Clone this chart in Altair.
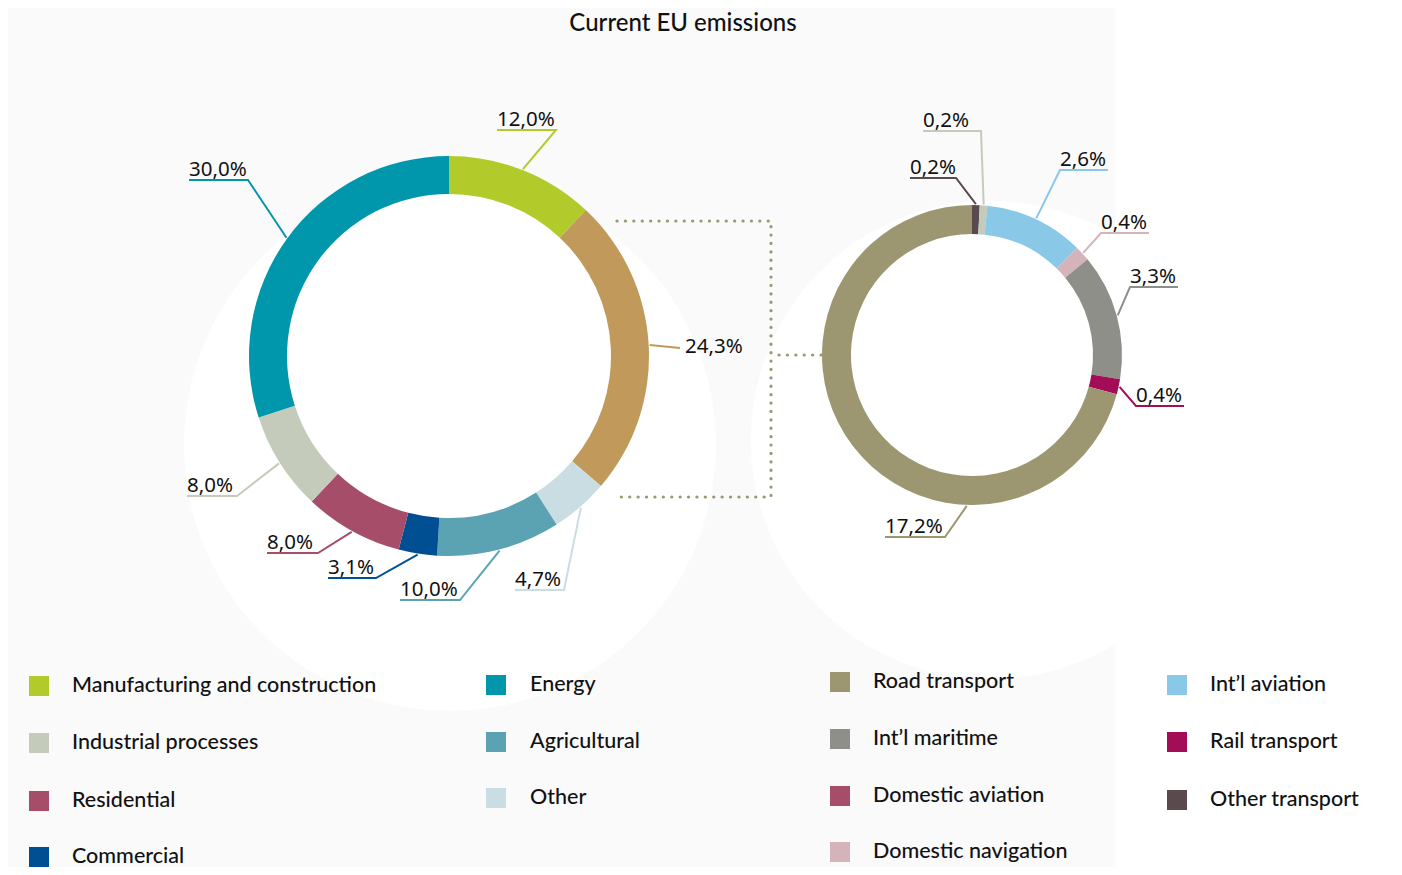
import math
import altair as alt
import pandas as pd

# ---------------- data ----------------
sector_names = ["Manufacturing and construction", "Transport", "Other", "Agricultural",
                "Commercial", "Residential", "Industrial processes", "Energy"]
sector_values = [12.0, 24.3, 4.7, 10.0, 3.1, 8.0, 8.0, 30.0]

transport_names = ["Other transport", "Domestic aviation", "Int’l aviation", "Domestic navigation",
                   "Int’l maritime", "Rail transport", "Road transport"]
transport_values = [0.2, 0.2, 2.6, 0.4, 3.3, 0.4, 17.2]

legend_col1 = ["Manufacturing and construction", "Industrial processes", "Residential", "Commercial"]
legend_col2 = ["Energy", "Agricultural", "Other"]
legend_col3 = ["Road transport", "Int’l maritime", "Domestic aviation", "Domestic navigation"]
legend_col4 = ["Int’l aviation", "Rail transport", "Other transport"]

title_text = "Current EU emissions"

# ---------------- styles ----------------
colors = {
    "Manufacturing and construction": "#B2CB2B",
    "Transport": "#C19A5B",
    "Other": "#C9DDE3",
    "Agricultural": "#5BA3B3",
    "Commercial": "#004F93",
    "Residential": "#A64D6A",
    "Industrial processes": "#C5CBBA",
    "Energy": "#0097AC",
    "Road transport": "#9C9771",
    "Int’l maritime": "#8F8F8A",
    "Domestic aviation": "#A64D6A",
    "Domestic navigation": "#D4B4BA",
    "Int’l aviation": "#89C8E6",
    "Rail transport": "#A30D57",
    "Other transport": "#5A4A4E",
}
slice_color_override = {("right", "Domestic aviation"): "#C5CBBA"}

W, H = 1386, 859
OFF = 8
LEFT = dict(cx=449, cy=356, r0=162, r1=200)
RIGHT = dict(cx=972, cy=355, r0=121, r1=150)

# label layout: underline (x0, x1, y), elbow side; or straight line end + text pos
left_layout = {
    "Manufacturing and construction": dict(u=(497, 556, 130), side="right"),
    "Transport": dict(end=(680, 348), text=(685, 347)),
    "Other": dict(u=(515, 564, 590), side="right"),
    "Agricultural": dict(u=(400, 460, 600), side="right"),
    "Commercial": dict(u=(328, 376, 578), side="right"),
    "Residential": dict(u=(267, 318, 553), side="right"),
    "Industrial processes": dict(u=(187, 237, 496), side="right"),
    "Energy": dict(u=(189, 248, 180), side="right"),
}
right_layout = {
    "Other transport": dict(u=(910, 956, 178), side="right"),
    "Domestic aviation": dict(u=(923, 981, 131), side="right"),
    "Int’l aviation": dict(u=(1060, 1108, 170), side="left"),
    "Domestic navigation": dict(u=(1101, 1149, 233), side="left"),
    "Int’l maritime": dict(u=(1130, 1178, 287), side="left"),
    "Rail transport": dict(u=(1136, 1184, 406), side="left"),
    "Road transport": dict(u=(885, 945, 537), side="right", angle=182),
}


def fmt(v):
    return f"{v:.1f}".replace(".", ",") + "%"


def ring_frame(names, values, tag):
    rows = []
    for i, (n, v) in enumerate(zip(names, values)):
        rows.append(dict(name=n, value=v, idx=i,
                         color=slice_color_override.get((tag, n), colors[n])))
    return pd.DataFrame(rows)


def leader_frames(names, values, geo, layout, tag):
    total = sum(values)
    cum = 0.0
    lines, texts = [], []
    for n, v in zip(names, values):
        mid = (cum + v / 2) / total * 360
        cum += v
        lay = layout[n]
        ang = math.radians(lay.get("angle", mid))
        r = geo["r1"] + 1
        p0 = (geo["cx"] + r * math.sin(ang), geo["cy"] - r * math.cos(ang))
        col = slice_color_override.get((tag, n), colors[n])
        lid = f"{tag}-{n}"
        if "u" in lay:
            x0, x1, uy = lay["u"]
            pts = [p0, (x1, uy), (x0, uy)] if lay["side"] == "right" else [p0, (x0, uy), (x1, uy)]
            texts.append(dict(x=x0, y=uy - 4, label=fmt(v), base="alphabetic"))
        else:
            pts = [p0, lay["end"]]
            texts.append(dict(x=lay["text"][0], y=lay["text"][1], label=fmt(v), base="middle"))
        for k, (px, py) in enumerate(pts):
            lines.append(dict(id=lid, o=k, x=px, y=py, color=col))
    return lines, texts


xs = alt.Scale(domain=[OFF, OFF + W], nice=False, zero=False)
ys = alt.Scale(domain=[OFF, OFF + H], nice=False, zero=False, reverse=True)


def X(f):
    return alt.X(f, scale=xs, axis=None)


def Y(f):
    return alt.Y(f, scale=ys, axis=None)


# ---------------- background (faint decorative shapes) ----------------
bg_rect = alt.Chart(pd.DataFrame([dict(x=0, x2=1115, y=0, y2=875)])).mark_rect(
    color="#FAFAFA").encode(x=X("x:Q"), x2="x2:Q", y=Y("y:Q"), y2="y2:Q")
bg_white = alt.Chart(pd.DataFrame([
    dict(x=450, y=445, s=math.pi * 300 ** 2),
    dict(x=990, y=440, s=math.pi * 270 ** 2),
])).mark_circle(color="white", opacity=1).encode(
    x=X("x:Q"), y=Y("y:Q"), size=alt.Size("s:Q", scale=None))

# ---------------- donuts ----------------
def donut(names, values, geo, tag):
    df = ring_frame(names, values, tag)
    return alt.Chart(df).mark_arc(innerRadius=geo["r0"], outerRadius=geo["r1"]).encode(
        theta=alt.Theta("value:Q", stack=True),
        order=alt.Order("idx:Q"),
        color=alt.Color("color:N", scale=None),
        x=alt.value(geo["cx"] - OFF),
        y=alt.value(geo["cy"] - OFF),
    )


left_donut = donut(sector_names, sector_values, LEFT, "left")
right_donut = donut(transport_names, transport_values, RIGHT, "right")

l_lines, l_texts = leader_frames(sector_names, sector_values, LEFT, left_layout, "left")
r_lines, r_texts = leader_frames(transport_names, transport_values, RIGHT, right_layout, "right")
lines_df = pd.DataFrame(l_lines + r_lines)
texts_df = pd.DataFrame(l_texts + r_texts)

leaders = alt.Chart(lines_df).mark_line(strokeWidth=2).encode(
    x=X("x:Q"), y=Y("y:Q"), detail="id:N", order="o:Q",
    color=alt.Color("color:N", scale=None))

pct_alpha = alt.Chart(texts_df[texts_df.base == "alphabetic"]).mark_text(
    align="left", baseline="alphabetic", font="Noto Sans", fontSize=20.5, color="#111111").encode(
    x=X("x:Q"), y=Y("y:Q"), text="label:N")
pct_mid = alt.Chart(texts_df[texts_df.base == "middle"]).mark_text(
    align="left", baseline="middle", font="Noto Sans", fontSize=20.5, color="#111111").encode(
    x=X("x:Q"), y=Y("y:Q"), text="label:N")

# ---------------- dotted connector ----------------
conn_color = "#9C9771"
conn_df = pd.DataFrame([
    dict(id="a", o=0, x=617, y=221), dict(id="a", o=1, x=771, y=221),
    dict(id="a", o=2, x=771, y=497), dict(id="a", o=3, x=617, y=497),
    dict(id="b", o=0, x=779, y=355), dict(id="b", o=1, x=RIGHT["cx"] - RIGHT["r1"], y=355),
])
connector = alt.Chart(conn_df).mark_line(
    color=conn_color, strokeWidth=3.2, strokeDash=[0.1, 8.3], strokeCap="round").encode(
    x=X("x:Q"), y=Y("y:Q"), detail="id:N", order="o:Q")

# ---------------- legend ----------------
leg_cols = [
    (legend_col1, 39, 72, [686, 743, 801, 857]),
    (legend_col2, 496, 530, [685, 742, 798]),
    (legend_col3, 840, 873, [682, 739, 796, 852]),
    (legend_col4, 1177, 1210, [685, 742, 800]),
]
leg_rows = []
for names, sx, tx, ys_ in leg_cols:
    for n, yy in zip(names, ys_):
        leg_rows.append(dict(name=n, sx=sx, tx=tx, y=yy, color=colors[n]))
leg_df = pd.DataFrame(leg_rows)
leg_sq = alt.Chart(leg_df).mark_square(size=400, opacity=1).encode(
    x=X("sx:Q"), y=Y("y:Q"), color=alt.Color("color:N", scale=None))
leg_tx = alt.Chart(leg_df).mark_text(
    align="left", baseline="middle", font="Lato", fontSize=21.5, fontWeight=500,
    color="#111111").encode(
    x=X("tx:Q"), y=Y("y:Q"), text="name:N")

# ---------------- title ----------------
title = alt.Chart(pd.DataFrame([dict(x=683, y=24, t=title_text)])).mark_text(
    align="center", baseline="middle", font="Lato", fontSize=24, fontWeight=500,
    color="#111111").encode(
    x=X("x:Q"), y=Y("y:Q"), text="t:N")

chart = alt.layer(
    bg_rect, bg_white, connector, left_donut, right_donut, leaders,
    pct_alpha, pct_mid, leg_sq, leg_tx, title,
).resolve_scale(theta="independent").properties(
    width=W, height=H, padding=0, background="white",
    autosize=alt.AutoSizeParams(type="none"),
).configure_view(stroke=None)

chart.save("out.html", embed_options={"renderer": "svg", "actions": False})
